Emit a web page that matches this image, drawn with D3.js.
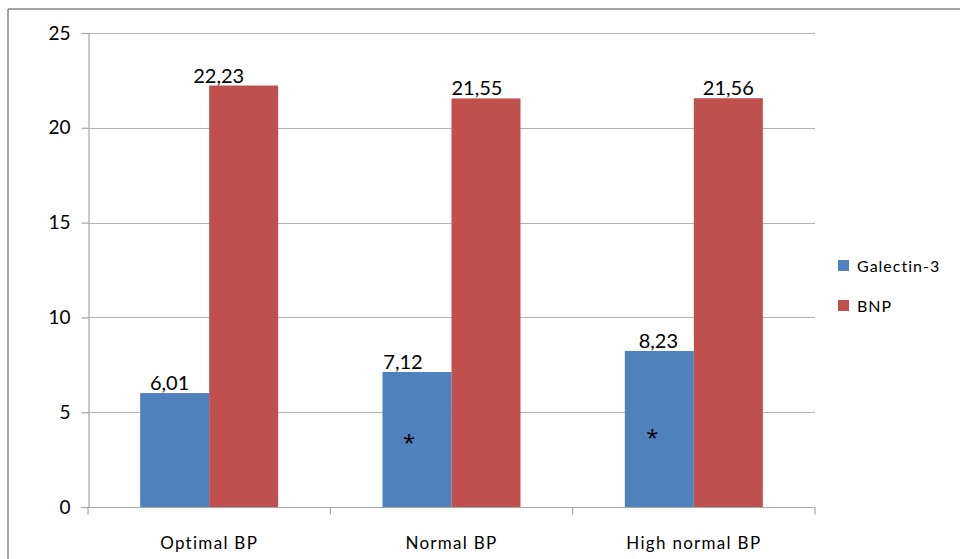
<!DOCTYPE html>
<html>
<head>
<meta charset="utf-8">
<script src="https://cdn.jsdelivr.net/npm/d3@7/dist/d3.min.js"></script>
<style>
  html, body { margin: 0; padding: 0; background: #fff; }
  svg { display: block; }
  text { font-family: Lato, "Open Sans", "Liberation Sans", sans-serif; fill: #000; }
</style>
</head>
<body>
<svg id="chart" width="960" height="559"></svg>
<script>
// ---- data ----
const categories = ["Optimal BP", "Normal BP", "High normal BP"];
const seriesNames = ["Galectin-3", "BNP"];
const galectin3 = [6.01, 7.12, 8.23];
const bnp = [22.23, 21.55, 21.56];
const yTicks = [0, 5, 10, 15, 20, 25];
// significance markers: [category index, series index, y value where the "*" sits]
const asterisks = [[1, 0, 3.6], [2, 0, 3.85]];

// ---- styles / layout ----
const colors = ["#4F81BD", "#C0504D"];
const labelShift = [[-5, -25], [-14, -9], [-1, 0]]; // small horizontal nudges of value labels
const asteriskShift = [-8, -7];

const svg = d3.select("#chart");
const plot = { left: 88, right: 815, top: 33, bottom: 507 };

const x0 = d3.scaleBand().domain(categories).range([plot.left, plot.right]).paddingInner(0).paddingOuter(0);
const groupFrac = 138 / 242.33;
const bw = x0.bandwidth();
const x1 = d3.scaleBand().domain(seriesNames)
  .range([bw * (1 - groupFrac) / 2, bw * (1 + groupFrac) / 2]).padding(0);
const y = d3.scaleLinear().domain([0, 25]).range([plot.bottom, plot.top]);

const values = [galectin3, bnp];

// outer frame
svg.append("line").attr("x1", 8).attr("x2", 960).attr("y1", 9).attr("y2", 9)
  .attr("stroke", "#878787").attr("stroke-width", 1.5);
svg.append("line").attr("x1", 8).attr("x2", 8).attr("y1", 9).attr("y2", 559)
  .attr("stroke", "#878787").attr("stroke-width", 1.5);

// gridlines
svg.append("g").selectAll("line").data(yTicks.filter(d => d > 0)).join("line")
  .attr("x1", plot.left).attr("x2", plot.right)
  .attr("y1", d => Math.round(y(d)) + 0.5).attr("y2", d => Math.round(y(d)) + 0.5)
  .attr("stroke", "#B3B3B3").attr("stroke-width", 1.2);

// y axis
const yAxis = d3.axisLeft(y).tickValues(yTicks).tickSize(7).tickPadding(11).tickFormat(d3.format("d"));
const gy = svg.append("g").attr("transform", `translate(${plot.left + 0.5},0)`).call(yAxis);
gy.select(".domain").attr("stroke", "#A6A6A6").attr("stroke-width", 1.2);
gy.selectAll(".tick line").attr("stroke", "#A6A6A6").attr("stroke-width", 1.2);
gy.selectAll(".tick text").attr("font-size", 19).attr("fill", "#000")
  .style("font-family", "Lato, 'Open Sans', sans-serif");

// x axis (ticks at category boundaries)
const gx = svg.append("g").attr("transform", `translate(0,${Math.round(y(0)) + 0.5})`);
gx.append("line").attr("x1", plot.left).attr("x2", plot.right).attr("stroke", "#A6A6A6").attr("stroke-width", 1.2);
const boundaries = categories.map(c => x0(c)).concat([x0(categories[categories.length - 1]) + bw]);
gx.selectAll("line.tk").data(boundaries).join("line").attr("class", "tk")
  .attr("x1", d => d).attr("x2", d => d).attr("y1", 0).attr("y2", 7)
  .attr("stroke", "#A6A6A6").attr("stroke-width", 1.2);
gx.selectAll("text").data(categories).join("text")
  .attr("x", d => x0(d) + bw / 2).attr("y", 41)
  .attr("text-anchor", "middle").attr("font-size", 17).attr("letter-spacing", "1.3px")
  .text(d => d);

// bars
const groups = svg.append("g").selectAll("g").data(categories).join("g")
  .attr("transform", d => `translate(${x0(d)},0)`);
groups.selectAll("rect").data((c, i) => seriesNames.map((s, j) => ({ s, j, i, v: values[j][i] })))
  .join("rect")
  .attr("x", d => x1(d.s)).attr("width", x1.bandwidth())
  .attr("y", d => y(d.v)).attr("height", d => y(0) - y(d.v))
  .attr("fill", d => colors[d.j]);

// value labels
groups.selectAll("text.val").data((c, i) => seriesNames.map((s, j) => ({ s, j, i, v: values[j][i] })))
  .join("text").attr("class", "val")
  .attr("x", d => x1(d.s) + x1.bandwidth() / 2 + labelShift[d.i][d.j])
  .attr("y", d => y(d.v) - 3)
  .attr("text-anchor", "middle").attr("font-size", 20)
  .text(d => d3.format(".2f")(d.v).replace(".", ","));

// asterisks
svg.append("g").selectAll("text").data(asterisks).join("text")
  .attr("x", (d, k) => x0(categories[d[0]]) + x1(seriesNames[d[1]]) + x1.bandwidth() / 2 + asteriskShift[k])
  .attr("y", d => y(d[2]) + 11)
  .attr("text-anchor", "middle").attr("font-size", 22)
  .style("font-family", "'Open Sans', 'DejaVu Sans', sans-serif")
  .text("*");

// legend
const legend = svg.append("g").selectAll("g").data(seriesNames).join("g")
  .attr("transform", (d, i) => `translate(838,${260 + i * 40})`);
legend.append("rect").attr("width", 11).attr("height", 11).attr("fill", (d, i) => colors[i]);
legend.append("text").attr("x", 19).attr("y", 12).attr("font-size", 16).attr("letter-spacing", "1px")
  .text(d => d);
</script>
</body>
</html>
